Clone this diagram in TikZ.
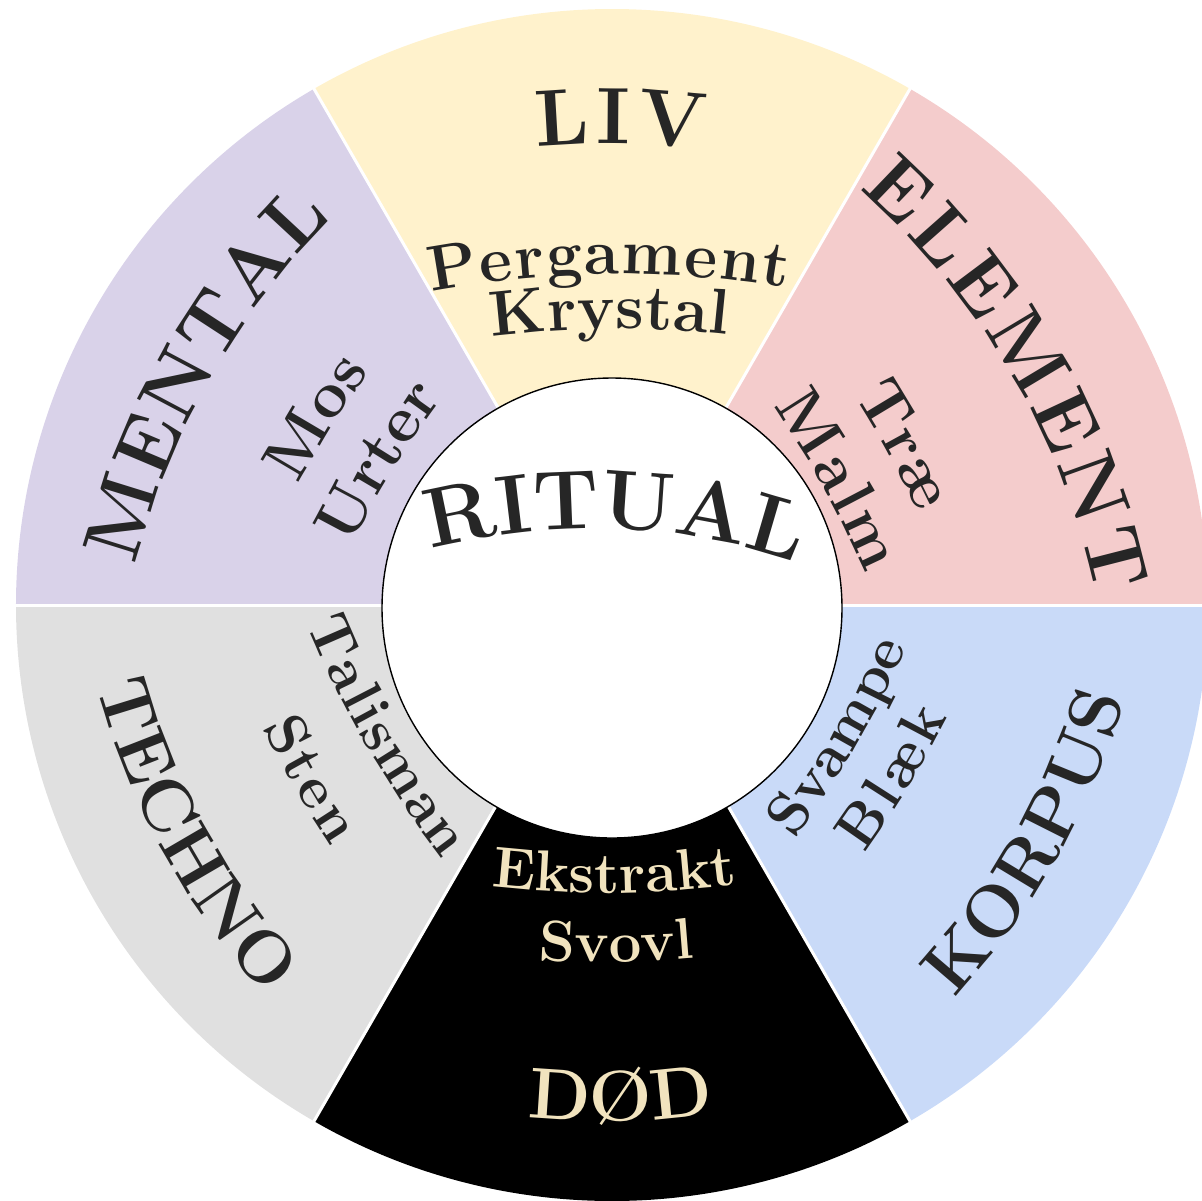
\documentclass[tikz,border=0pt]{standalone}
\usepackage{xcolor}
\usepackage{tikz}
\usetikzlibrary{calc,decorations.text}
\definecolor{RWLiv}{HTML}{FFF2CC}
\definecolor{RWElement}{HTML}{F4CCCC}
\definecolor{RWKorpus}{HTML}{C9DAF8}
\definecolor{RWDod}{HTML}{000000}
\definecolor{RWTechno}{HTML}{E0E0E0}
\definecolor{RWMental}{HTML}{D9D2E9}
\definecolor{RWInk}{HTML}{262626}
\definecolor{RWCream}{HTML}{F1E3BE}

\newcommand{\hubfont}{\fontsize{42}{42}\selectfont\bfseries}
\newcommand{\titlefont}{\fontsize{40}{40}\selectfont\bfseries}
\newcommand{\lowtitlefont}{\fontsize{36}{36}\selectfont\bfseries}
\newcommand{\itemfont}{\fontsize{32}{32}\selectfont\bfseries}
\newcommand{\lowitemfont}{\fontsize{29}{29}\selectfont\bfseries}

% [opts]{angle}{radius}{bend}{length}{text}
\newcommand{\archout}[6][]{%
  \path[archtext,#1,decoration={text={#6}}]
    ($(#2:#3)+(#2+180:#4)+(#2+#5/#4*28.6479:#4)$)
    arc[start angle=#2+#5/#4*28.6479, end angle=#2-#5/#4*28.6479, radius=#4];%
}
\newcommand{\archin}[6][]{%
  \path[archtext,#1,decoration={text={#6}}]
    ($(#2:#3)+(#2+180:#4)+(#2-#5/#4*28.6479:#4)$)
    arc[start angle=#2-#5/#4*28.6479, end angle=#2+#5/#4*28.6479, radius=#4];%
}

\begin{document}
\begin{tikzpicture}[
  x=0.5pt,
  y=0.5pt,
  gap/.style={draw=white, line width=1.5pt},
  hub/.style={
    circle,
    draw=black,
    line width=0.7pt,
    fill=white,
    minimum size=230pt,
    inner sep=0pt
  },
  archtext/.style={
    decorate,
    decoration={text along path, text align={fit to path}, text color=RWInk}
  },
  cream/.style={decoration={text color=RWCream}},
]
\useasboundingbox (-612,-595) rectangle (590,605);

\foreach \a/\col in {0/RWElement,60/RWLiv,120/RWMental,180/RWTechno,240/RWDod,300/RWKorpus}
  \fill[\col] (0,0) -- (\a:596) arc[start angle=\a, end angle=\a+60, radius=596] -- cycle;
\foreach \a in {0,60,...,300}
  \draw[gap] (0,0) -- (\a:600);

\node[hub] (hub) at (0,-3) {};

\archout{88}{76}{630}{372}{|\hubfont|RITUAL}

\archout{89}{461}{750}{168}{|\titlefont|LIV}
\archout{90.5}{331}{1000}{358}{|\itemfont|Pergament}
\archout{90.5}{276}{1000}{236}{|\itemfont|Krystal}

\archout{150.5}{461}{750}{405}{|\titlefont|MENTAL}
\archout{147.5}{332}{1000}{134}{|\itemfont|Mos}
\archout{148.6}{257}{1000}{172}{|\itemfont|Urter}

\archout{30.2}{461}{750}{478}{|\titlefont|ELEMENT}
\archout{28.7}{315}{1000}{134}{|\itemfont|Træ}
\archout{29}{242}{1000}{192}{|\itemfont|Malm}

\archin{330.2}{512}{750}{345}{|\lowtitlefont|KORPUS}
\archin{329.6}{282}{1000}{220}{|\lowitemfont|Svampe}
\archin{328.5}{348}{1000}{160}{|\lowitemfont|Blæk}

\archin{208.4}{512}{750}{350}{|\lowtitlefont|TECHNO}
\archin{210}{283}{1000}{272}{|\lowitemfont|Talisman}
\archin{210}{366}{1000}{138}{|\lowitemfont|Sten}

\archin[cream]{271}{516}{750}{188}{|\lowtitlefont|DØD}
\archin[cream]{270.5}{288}{1000}{246}{|\lowitemfont|Ekstrakt}
\archin[cream]{270.7}{357}{1000}{156}{|\lowitemfont|Svovl}
\end{tikzpicture}
\end{document}
